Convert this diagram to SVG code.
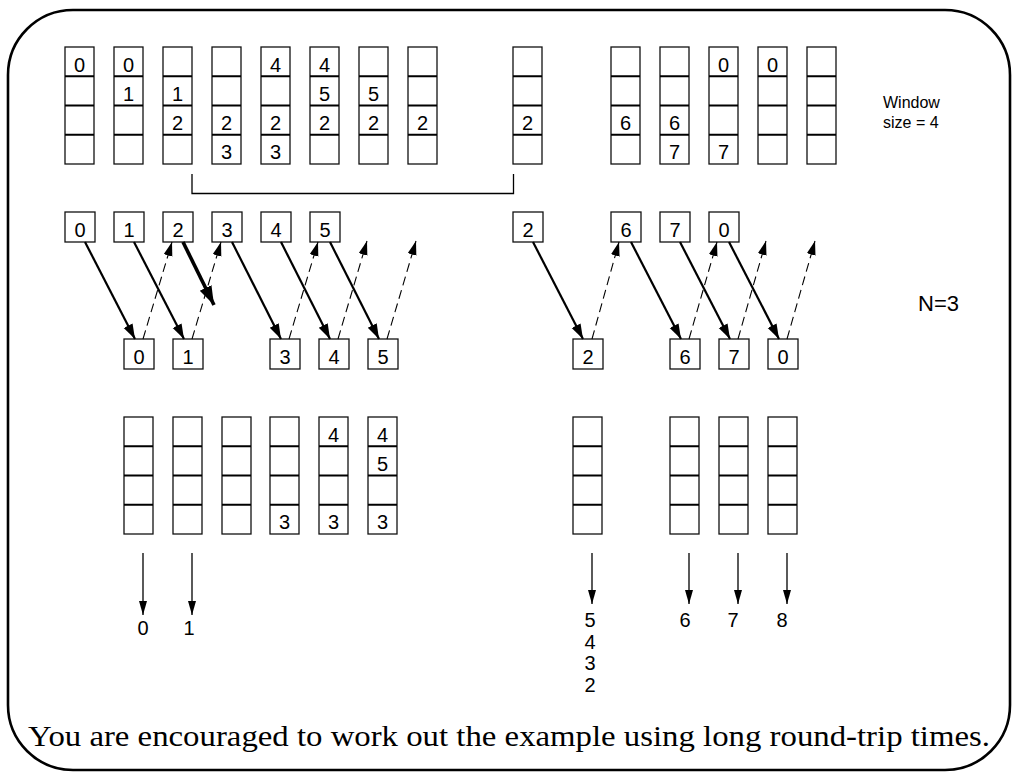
<svg xmlns="http://www.w3.org/2000/svg" xmlns:xlink="http://www.w3.org/1999/xlink" width="1013" height="779" viewBox="0 0 1013 779">
  <style>
    .frame { fill: none; stroke: #000; stroke-width: 2.6; }
    .box { fill: #fff; stroke: #111; stroke-width: 1.3; }
    .div { fill: none; stroke: #000; stroke-width: 1.8; }
    .num { font-family: "Liberation Sans", Arial, sans-serif; font-size: 20px; fill: #000; text-anchor: middle; }
    .lbl { font-family: "Liberation Sans", Arial, sans-serif; fill: #000; }
    .cap { font-family: "Liberation Serif", "Times New Roman", serif; font-size: 29px; fill: #000; }
    .data { fill: none; stroke: #000; stroke-width: 2.2; marker-end: url(#head); }
    .lost { fill: none; stroke: #000; stroke-width: 3.6; marker-end: url(#headBig); }
    .ack { fill: none; stroke: #000; stroke-width: 1.1; stroke-dasharray: 9 5; marker-end: url(#headAck); }
    .out { fill: none; stroke: #000; stroke-width: 1.3; marker-end: url(#headOut); }
    .bracket { fill: none; stroke: #000; stroke-width: 1.3; }
  </style>
  <defs>
    <marker id="head" markerUnits="userSpaceOnUse" markerWidth="17" markerHeight="11" refX="15" refY="5" orient="auto">
      <path d="M0,0 L15,5 L0,10 z" fill="#000"/>
    </marker>
    <marker id="headBig" markerUnits="userSpaceOnUse" markerWidth="22" markerHeight="14" refX="19" refY="6.5" orient="auto">
      <path d="M0,0 L19,6.5 L0,13 z" fill="#000"/>
    </marker>
    <marker id="headAck" markerUnits="userSpaceOnUse" markerWidth="16" markerHeight="10" refX="14" refY="4.5" orient="auto">
      <path d="M0,0 L14,4.5 L0,9 z" fill="#000"/>
    </marker>
    <marker id="headOut" markerUnits="userSpaceOnUse" markerWidth="16" markerHeight="10" refX="14" refY="4" orient="auto">
      <path d="M0,0 L14,4 L0,8 z" fill="#000"/>
    </marker>
    <!-- four-slot window stack -->
    <g id="stack">
      <rect x="0" y="0" width="29" height="117" class="box"/>
      <path d="M0,29.25H29M0,58.5H29M0,87.75H29" class="div"/>
    </g>
  </defs>

  <rect x="8" y="10" width="1002" height="760" rx="65" ry="65" class="frame"/>

  <!-- sender windows -->
  <g id="sender-windows">
    <g id="sw1"><use xlink:href="#stack" x="65" y="47"/><text class="num" x="79.5" y="71.5">0</text></g>
    <g id="sw2"><use xlink:href="#stack" x="114" y="47"/><text class="num" x="128.5" y="71.5">0</text><text class="num" x="128.5" y="100.75">1</text></g>
    <g id="sw3"><use xlink:href="#stack" x="163" y="47"/><text class="num" x="177.5" y="100.75">1</text><text class="num" x="177.5" y="130">2</text></g>
    <g id="sw4"><use xlink:href="#stack" x="212" y="47"/><text class="num" x="226.5" y="130">2</text><text class="num" x="226.5" y="159.25">3</text></g>
    <g id="sw5"><use xlink:href="#stack" x="261" y="47"/><text class="num" x="275.5" y="71.5">4</text><text class="num" x="275.5" y="130">2</text><text class="num" x="275.5" y="159.25">3</text></g>
    <g id="sw6"><use xlink:href="#stack" x="310" y="47"/><text class="num" x="324.5" y="71.5">4</text><text class="num" x="324.5" y="100.75">5</text><text class="num" x="324.5" y="130">2</text></g>
    <g id="sw7"><use xlink:href="#stack" x="359" y="47"/><text class="num" x="373.5" y="100.75">5</text><text class="num" x="373.5" y="130">2</text></g>
    <g id="sw8"><use xlink:href="#stack" x="408" y="47"/><text class="num" x="422.5" y="130">2</text></g>
    <g id="sw9"><use xlink:href="#stack" x="513" y="47"/><text class="num" x="527.5" y="130">2</text></g>
    <g id="sw10"><use xlink:href="#stack" x="611" y="47"/><text class="num" x="625.5" y="130">6</text></g>
    <g id="sw11"><use xlink:href="#stack" x="660" y="47"/><text class="num" x="674.5" y="130">6</text><text class="num" x="674.5" y="159.25">7</text></g>
    <g id="sw12"><use xlink:href="#stack" x="709" y="47"/><text class="num" x="723.5" y="71.5">0</text><text class="num" x="723.5" y="159.25">7</text></g>
    <g id="sw13"><use xlink:href="#stack" x="758" y="47"/><text class="num" x="772.5" y="71.5">0</text></g>
    <g id="sw14"><use xlink:href="#stack" x="807" y="47"/></g>
  </g>

  <g id="window-label">
    <text class="lbl" font-size="16" x="883" y="108">Window</text>
    <text class="lbl" font-size="16" x="883" y="128">size = 4</text>
  </g>

  <!-- timeout interval bracket -->
  <path id="bracket" d="M192,174V193.5H513.5V174" class="bracket"/>

  <!-- frames sent -->
  <g id="sent">
    <g id="s0"><rect x="65" y="212" width="30" height="30" class="box"/><text class="num" x="80" y="237">0</text></g>
    <g id="s1"><rect x="114" y="212" width="30" height="30" class="box"/><text class="num" x="129" y="237">1</text></g>
    <g id="s2"><rect x="163" y="212" width="30" height="30" class="box"/><text class="num" x="178" y="237">2</text></g>
    <g id="s3"><rect x="212" y="212" width="30" height="30" class="box"/><text class="num" x="227" y="237">3</text></g>
    <g id="s4"><rect x="261" y="212" width="30" height="30" class="box"/><text class="num" x="276" y="237">4</text></g>
    <g id="s5"><rect x="310" y="212" width="30" height="30" class="box"/><text class="num" x="325" y="237">5</text></g>
    <g id="s2r"><rect x="513" y="212" width="30" height="30" class="box"/><text class="num" x="528" y="237">2</text></g>
    <g id="s6"><rect x="611" y="212" width="30" height="30" class="box"/><text class="num" x="626" y="237">6</text></g>
    <g id="s7"><rect x="660" y="212" width="30" height="30" class="box"/><text class="num" x="675" y="237">7</text></g>
    <g id="s0b"><rect x="709" y="212" width="30" height="30" class="box"/><text class="num" x="724" y="237">0</text></g>
  </g>

  <text class="lbl" font-size="22" x="918" y="311">N=3</text>

  <!-- frames received -->
  <g id="received">
    <g id="r0"><rect x="124" y="339" width="30" height="30" class="box"/><text class="num" x="139" y="364">0</text></g>
    <g id="r1"><rect x="173" y="339" width="30" height="30" class="box"/><text class="num" x="188" y="364">1</text></g>
    <g id="r3"><rect x="270" y="339" width="30" height="30" class="box"/><text class="num" x="285" y="364">3</text></g>
    <g id="r4"><rect x="319" y="339" width="30" height="30" class="box"/><text class="num" x="334" y="364">4</text></g>
    <g id="r5"><rect x="368" y="339" width="30" height="30" class="box"/><text class="num" x="383" y="364">5</text></g>
    <g id="r2"><rect x="573" y="339" width="30" height="30" class="box"/><text class="num" x="588" y="364">2</text></g>
    <g id="r6"><rect x="670" y="339" width="30" height="30" class="box"/><text class="num" x="685" y="364">6</text></g>
    <g id="r7"><rect x="719" y="339" width="30" height="30" class="box"/><text class="num" x="734" y="364">7</text></g>
    <g id="r0b"><rect x="768" y="339" width="30" height="30" class="box"/><text class="num" x="783" y="364">0</text></g>
  </g>

  <!-- receiver buffers -->
  <g id="receiver-buffers">
    <g id="rb1"><use xlink:href="#stack" x="124" y="417"/></g>
    <g id="rb2"><use xlink:href="#stack" x="173" y="417"/></g>
    <g id="rb3"><use xlink:href="#stack" x="222" y="417"/></g>
    <g id="rb4"><use xlink:href="#stack" x="270" y="417"/><text class="num" x="284.5" y="529.25">3</text></g>
    <g id="rb5"><use xlink:href="#stack" x="319" y="417"/><text class="num" x="333.5" y="441.5">4</text><text class="num" x="333.5" y="529.25">3</text></g>
    <g id="rb6"><use xlink:href="#stack" x="368" y="417"/><text class="num" x="382.5" y="441.5">4</text><text class="num" x="382.5" y="470.75">5</text><text class="num" x="382.5" y="529.25">3</text></g>
    <g id="rb7"><use xlink:href="#stack" x="573" y="417"/></g>
    <g id="rb8"><use xlink:href="#stack" x="670" y="417"/></g>
    <g id="rb9"><use xlink:href="#stack" x="719" y="417"/></g>
    <g id="rb10"><use xlink:href="#stack" x="768" y="417"/></g>
  </g>

  <!-- delivered to network layer -->
  <g id="delivered">
    <text class="num" x="143" y="635">0</text>
    <text class="num" x="189" y="635">1</text>
    <text class="num" x="590" y="627">5</text>
    <text class="num" x="590" y="648.5">4</text>
    <text class="num" x="590" y="670">3</text>
    <text class="num" x="590" y="691.5">2</text>
    <text class="num" x="685" y="627">6</text>
    <text class="num" x="733" y="627">7</text>
    <text class="num" x="782" y="627">8</text>
  </g>

  <g id="connectors">
    <!-- data frames -->
    <path class="data" d="M85,242L135,339"/>
    <path class="data" d="M134,242L184,339"/>
    <path class="lost" d="M183,242L214,305"/>
    <path class="data" d="M232,242L281,339"/>
    <path class="data" d="M281,242L330,339"/>
    <path class="data" d="M330,242L379,339"/>
    <path class="data" d="M533,242L583,339"/>
    <path class="data" d="M631,242L681,339"/>
    <path class="data" d="M680,242L730,339"/>
    <path class="data" d="M729,242L779,339"/>
    <!-- acknowledgements -->
    <path class="ack" d="M143,339L172,242"/>
    <path class="ack" d="M192,339L221,242"/>
    <path class="ack" d="M289,339L318,242"/>
    <path class="ack" d="M338,339L367,241"/>
    <path class="ack" d="M387,339L416,241"/>
    <path class="ack" d="M592,339L619,242"/>
    <path class="ack" d="M689,339L717,242"/>
    <path class="ack" d="M738,339L766,241"/>
    <path class="ack" d="M787,339L815,241"/>
    <!-- delivery -->
    <path class="out" d="M143,553V615"/>
    <path class="out" d="M192,553V615"/>
    <path class="out" d="M592,553V604"/>
    <path class="out" d="M689,553V604"/>
    <path class="out" d="M738,553V604"/>
    <path class="out" d="M787,553V604"/>
  </g>

  <text class="cap" x="28" y="746" textLength="962" lengthAdjust="spacingAndGlyphs">You are encouraged to work out the example using long round-trip times.</text>
</svg>
